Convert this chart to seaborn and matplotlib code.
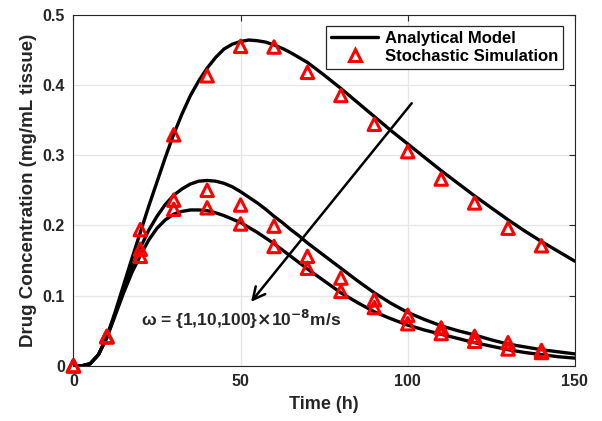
import numpy as np
import pandas as pd
import matplotlib
matplotlib.use("Agg")
import matplotlib.pyplot as plt
from matplotlib.lines import Line2D
import seaborn as sns

# analytical model curves
curve_time = [0, 2.5, 5, 7.5, 10, 12.5, 15, 17.5, 20, 22.5, 25, 27.5, 30, 32.5, 35,
              37.5, 40, 42.5, 45, 47.5, 50, 52.5, 55, 57.5, 60, 62.5, 65, 67.5, 70,
              75, 80, 85, 90, 95, 100, 105, 110, 115, 120, 125, 130, 135, 140, 145, 150]
model_w1 = [0, 0, 0.003, 0.016, 0.042, 0.077, 0.115, 0.153, 0.190, 0.227, 0.262,
            0.297, 0.330, 0.359, 0.385, 0.406, 0.424, 0.439, 0.451, 0.458, 0.462,
            0.464, 0.463, 0.461, 0.457, 0.452, 0.446, 0.439, 0.432,
            0.414, 0.395, 0.375, 0.355, 0.335, 0.316, 0.297, 0.278, 0.260, 0.242,
            0.225, 0.208, 0.192, 0.177, 0.163, 0.149]
model_w10 = [0, 0, 0.003, 0.016, 0.041, 0.074, 0.108, 0.140, 0.168, 0.193, 0.213,
             0.230, 0.243, 0.252, 0.259, 0.263, 0.264, 0.263, 0.260, 0.255, 0.248,
             0.240, 0.232, 0.223, 0.213, 0.204, 0.194, 0.185, 0.175,
             0.157, 0.139, 0.121, 0.104, 0.089, 0.076, 0.066, 0.057, 0.050, 0.044,
             0.037, 0.031, 0.027, 0.023, 0.020, 0.017]
model_w100 = [0, 0, 0.003, 0.016, 0.040, 0.072, 0.104, 0.133, 0.157, 0.179, 0.196,
              0.208, 0.216, 0.220, 0.222, 0.222, 0.221, 0.218, 0.214, 0.209, 0.204,
              0.197, 0.190, 0.182, 0.174, 0.165, 0.156, 0.147, 0.138,
              0.121, 0.104, 0.090, 0.077, 0.067, 0.058, 0.051, 0.045, 0.039, 0.033,
              0.028, 0.023, 0.019, 0.016, 0.013, 0.011]

# stochastic simulation points
sim_time = [0, 10, 20, 30, 40, 50, 60, 70, 80, 90, 100, 110, 120, 130, 140]
sim_w1 = [0, 0.042, 0.194, 0.329, 0.413, 0.455, 0.454, 0.418, 0.385, 0.344, 0.305,
          0.266, 0.232, 0.196, 0.171]
sim_w10 = [0, 0.042, 0.166, 0.236, 0.250, 0.229, 0.199, 0.156, 0.125, 0.094, 0.072,
           0.054, 0.042, 0.033, 0.022]
sim_w100 = [0, 0.041, 0.156, 0.223, 0.225, 0.202, 0.170, 0.139, 0.106, 0.083, 0.060,
            0.046, 0.035, 0.024, 0.019]

omega = ["1", "10", "100"]
x_ticks = [0, 50, 100, 150]
y_ticks = [0, 0.1, 0.2, 0.3, 0.4, 0.5]
y_tick_labels = ["0", "0.1", "0.2", "0.3", "0.4", "0.5"]

model = pd.concat([
    pd.DataFrame({"t": curve_time, "c": v, "w": w})
    for v, w in zip([model_w1, model_w10, model_w100], omega)])
sim = pd.concat([
    pd.DataFrame({"t": sim_time, "c": v, "w": w})
    for v, w in zip([sim_w1, sim_w10, sim_w100], omega)])

sns.set_style("white")
plt.rcParams["font.family"] = ["Liberation Sans", "DejaVu Sans"]
plt.rcParams["font.weight"] = "bold"
plt.rcParams["axes.labelweight"] = "bold"
dark = "#262626"

fig = plt.figure(figsize=(6.02, 4.21), dpi=100)
ax = fig.add_axes([0.122, 0.131, 0.955 - 0.122, 0.965 - 0.131])

sns.lineplot(data=model, x="t", y="c", hue="w", palette=["black"] * 3,
             linewidth=2.4, legend=False, ax=ax, sort=False, zorder=3)
sns.scatterplot(data=sim, x="t", y="c", marker="^", s=80, facecolors="none",
                edgecolors="red", linewidths=2.2, legend=False, ax=ax, zorder=4,
                clip_on=False)

ax.set_xlim(0, 150)
ax.set_ylim(0, 0.5)
ax.set_xticks(x_ticks)
ax.set_xticklabels([str(v) for v in x_ticks])
ax.set_yticks(y_ticks)
ax.set_yticklabels(y_tick_labels)
ax.grid(True, color="#e6e6e6", linewidth=0.9)
ax.set_axisbelow(True)
ax.tick_params(direction="in", length=4, width=0.8, top=True, right=True,
               labelsize=11.5, colors=dark, pad=6)
for lab in ax.get_xticklabels() + ax.get_yticklabels():
    lab.set_fontweight("bold")
for s in ax.spines.values():
    s.set_color(dark)
    s.set_linewidth(0.8)
    s.set_visible(True)

ax.set_xlabel("Time (h)", fontsize=13, color=dark, labelpad=5)
ax.set_ylabel("Drug Concentration (mg/mL tissue)", fontsize=13.5, color=dark, labelpad=4)

ax.annotate("", xy=(52.6, 0.088), xytext=(101.7, 0.377),
            arrowprops=dict(arrowstyle="->", lw=1.8, color="black", mutation_scale=22))
ax.text(20.3, 0.066, r"$\mathregular{\omega}$ = {1,10,100}$\times$10$^{\mathbf{-8}}$m/s",
        fontsize=12.5, fontweight="bold", color=dark, ha="left", va="center")

handles = [Line2D([], [], color="black", lw=2.4),
           Line2D([], [], ls="none", marker="^", ms=9, mfc="none", mec="red", mew=2.2)]
leg = ax.legend(handles, ["Analytical Model", "Stochastic Simulation"],
                loc="upper right", bbox_to_anchor=(0.976, 0.969), borderaxespad=0,
                fancybox=False, framealpha=1, edgecolor=dark, fontsize=12,
                handlelength=2.8, handletextpad=0.4, labelspacing=0.2, borderpad=0.3)
leg.get_frame().set_linewidth(0.9)
for t in leg.get_texts():
    t.set_fontweight("bold")
    t.set_color("black")

fig.savefig("out.png", dpi=100)
